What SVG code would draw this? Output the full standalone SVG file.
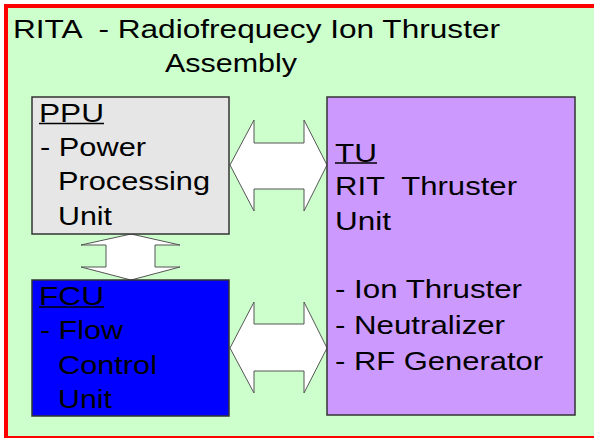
<svg xmlns="http://www.w3.org/2000/svg" width="594" height="438" viewBox="0 0 594 438">
<style>
text{font-family:"Liberation Sans",Arial,sans-serif;font-size:26px;fill:#000;white-space:pre}
.box{stroke:#333;stroke-width:1.5}
.arr{fill:#fff;stroke:#555;stroke-width:1}
.ul{stroke:#000;stroke-width:1.5}
</style>
<rect x="0" y="0" width="594" height="438" fill="#fff"/>
<g id="frame">
<rect x="6" y="6" width="600" height="432" fill="#CCFFCC" stroke="#FF0000" stroke-width="4"/>
<text x="13" y="37.5" textLength="487" lengthAdjust="spacingAndGlyphs" xml:space="preserve">RITA  - Radiofrequecy Ion Thruster</text>
<text x="165" y="71.5" textLength="132" lengthAdjust="spacingAndGlyphs">Assembly</text>
</g>
<g id="connectors">
<polygon class="arr" points="230,165 254,120 254,143 304,143 304,120 327,165 304,211 304,189 254,189 254,211"/>
<polygon class="arr" points="230,348 254,302 254,324 304,324 304,302 327,348 304,393 304,371 254,371 254,393"/>
<polygon class="arr" points="131,234 180,245 155,245 155,267 180,267 131,280 81,267 106,267 106,245 81,245"/>
</g>
<g id="ppu">
<rect class="box" x="32" y="97" width="197" height="137" fill="#E6E6E6"/>
<text x="39" y="121.5" textLength="65" lengthAdjust="spacingAndGlyphs">PPU</text>
<line class="ul" x1="39" y1="123.5" x2="104" y2="123.5"/>
<text x="40" y="156" textLength="106" lengthAdjust="spacingAndGlyphs">- Power</text>
<text x="58" y="190" textLength="152" lengthAdjust="spacingAndGlyphs">Processing</text>
<text x="58" y="225" textLength="54" lengthAdjust="spacingAndGlyphs">Unit</text>
</g>
<g id="fcu">
<rect class="box" x="32" y="280" width="197" height="136" fill="#0000FF"/>
<text x="39" y="305" textLength="65" lengthAdjust="spacingAndGlyphs">FCU</text>
<line class="ul" x1="39" y1="307" x2="104" y2="307"/>
<text x="40" y="339" textLength="83" lengthAdjust="spacingAndGlyphs">- Flow</text>
<text x="58" y="374" textLength="99" lengthAdjust="spacingAndGlyphs">Control</text>
<text x="58" y="408" textLength="54" lengthAdjust="spacingAndGlyphs">Unit</text>
</g>
<g id="tu">
<rect class="box" x="327" y="97" width="248" height="318" fill="#CC99FF"/>
<text x="335" y="161.5" textLength="42" lengthAdjust="spacingAndGlyphs">TU</text>
<line class="ul" x1="335" y1="163" x2="377" y2="163"/>
<text x="335" y="195" textLength="182" lengthAdjust="spacingAndGlyphs" xml:space="preserve">RIT  Thruster</text>
<text x="335" y="230" textLength="56" lengthAdjust="spacingAndGlyphs">Unit</text>
<text x="335" y="298" textLength="187" lengthAdjust="spacingAndGlyphs">- Ion Thruster</text>
<text x="335" y="334" textLength="170" lengthAdjust="spacingAndGlyphs">- Neutralizer</text>
<text x="335" y="369.5" textLength="208" lengthAdjust="spacingAndGlyphs">- RF Generator</text>
</g>
</svg>
